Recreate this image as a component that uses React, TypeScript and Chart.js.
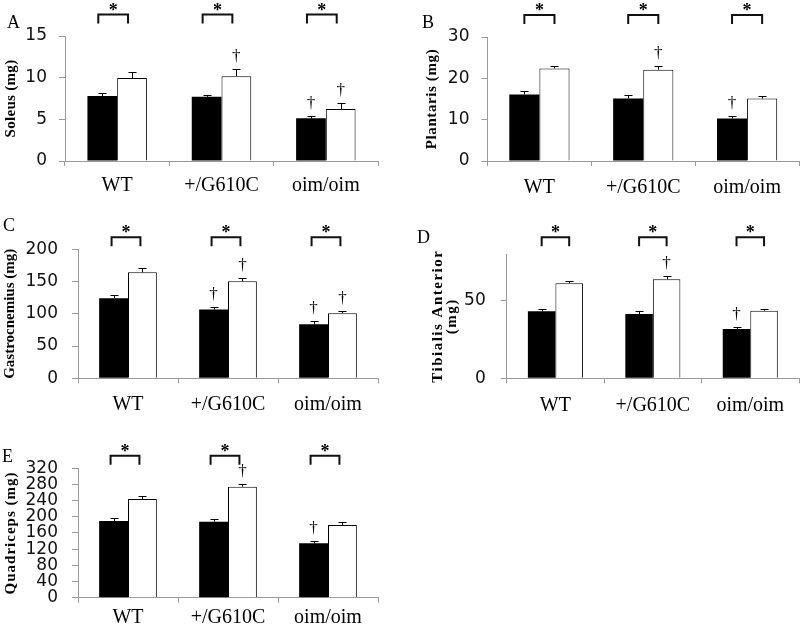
import { useEffect, useRef } from 'react';
import { Chart, registerables } from 'chart.js';
Chart.register(...registerables);

const groups = ['WT', '+/G610C', 'oim/oim'];

// A: Soleus
const soleusBlack = [7.8, 7.7, 5.12];
const soleusBlackSem = [0.32, 0.2, 0.24];
const soleusWhite = [9.96, 10.16, 6.24];
const soleusWhiteSem = [0.68, 0.84, 0.68];
const soleusTicks = [0, 5, 10, 15];
const soleusDagBlack = [false, false, true];
const soleusDagWhite = [false, true, true];

// B: Plantaris
const plantarisBlack = [16.1, 15.1, 10.3];
const plantarisBlackSem = [0.9, 0.9, 0.7];
const plantarisWhite = [22.4, 22.1, 15.1];
const plantarisWhiteSem = [0.7, 0.8, 0.55];
const plantarisTicks = [0, 10, 20, 30];
const plantarisDagBlack = [false, false, true];
const plantarisDagWhite = [false, true, false];

// C: Gastrocnemius
const gastroBlack = [124, 106.5, 83.7];
const gastroBlackSem = [4.7, 4.5, 4.7];
const gastroWhite = [164.3, 150.4, 100.8];
const gastroWhiteSem = [6.2, 5.6, 4.1];
const gastroTicks = [0, 50, 100, 150, 200];
const gastroDagBlack = [false, true, true];
const gastroDagWhite = [false, true, true];

// D: Tibialis Anterior
const tibialisBlack = [43.1, 41.4, 31.7];
const tibialisBlackSem = [1.7, 1.7, 1.3];
const tibialisWhite = [61.2, 63.8, 43.5];
const tibialisWhiteSem = [1.3, 1.9, 1.3];
const tibialisTicks = [0, 50];
const tibialisDagBlack = [false, false, true];
const tibialisDagWhite = [false, true, false];

// E: Quadriceps
const quadBlack = [189.7, 188, 134.4];
const quadBlackSem = [6.3, 7.5, 5.6];
const quadWhite = [244, 274.6, 179.8];
const quadWhiteSem = [7.5, 7.4, 7.4];
const quadTicks = [0, 40, 80, 120, 160, 200, 240, 280, 320];
const quadDagBlack = [false, false, true];
const quadDagWhite = [false, true, false];

const AXIS_GRAY = '#9a9a9a';

type Panel = {
  letter: string;
  title: string[];
  left: number; top: number; w: number; h: number;
  area: { l: number; r: number; t: number; b: number };
  yMax: number;
  ticks: number[];
  black: number[]; blackSem: number[];
  white: number[]; whiteSem: number[];
  dagB: boolean[]; dagW: boolean[];
  yPad: number; xPad: number;
  titleX: number[]; titleSize: number; titleSpacing: number;
  letterX: number; letterY: number;
  bracketY: number; bracketShift: number;
  catPct: number;
};

const panels: Panel[] = [
  {
    letter: 'A', title: ['Soleus (mg)'],
    left: 0, top: 0, w: 400, h: 205, area: { l: 65, r: 378, t: 36, b: 161 },
    yMax: 15, ticks: soleusTicks,
    black: soleusBlack, blackSem: soleusBlackSem, white: soleusWhite, whiteSem: soleusWhiteSem,
    dagB: soleusDagBlack, dagW: soleusDagWhite,
    yPad: 12, xPad: 8, titleX: [11], titleSize: 15, titleSpacing: 0.3,
    letterX: 7, letterY: 28, bracketY: 14.5, bracketShift: -4, catPct: 0.57,
  },
  {
    letter: 'B', title: ['Plantaris (mg)'],
    left: 400, top: 0, w: 400, h: 205, area: { l: 87.5, r: 399, t: 37, b: 161 },
    yMax: 30, ticks: plantarisTicks,
    black: plantarisBlack, blackSem: plantarisBlackSem, white: plantarisWhite, whiteSem: plantarisWhiteSem,
    dagB: plantarisDagBlack, dagW: plantarisDagWhite,
    yPad: 12, xPad: 10, titleX: [32.6], titleSize: 15, titleSpacing: 0.6,
    letterX: 22, letterY: 28, bracketY: 15, bracketShift: 0, catPct: 0.58,
  },
  {
    letter: 'C', title: ['Gastrocnemius (mg)'],
    left: 0, top: 205, w: 400, h: 210, area: { l: 78, r: 378, t: 44.3, b: 173.3 },
    yMax: 200, ticks: gastroTicks,
    black: gastroBlack, blackSem: gastroBlackSem, white: gastroWhite, whiteSem: gastroWhiteSem,
    dagB: gastroDagBlack, dagW: gastroDagWhite,
    yPad: 14, xPad: 9.5, titleX: [10], titleSize: 15, titleSpacing: 0,
    letterX: 3, letterY: 26, bracketY: 32.3, bracketShift: -2, catPct: 0.577,
  },
  {
    letter: 'D', title: ['Tibialis Anterior', '(mg)'],
    left: 400, top: 205, w: 400, h: 210, area: { l: 106.7, r: 399, t: 49, b: 173.3 },
    yMax: 80, ticks: tibialisTicks,
    black: tibialisBlack, blackSem: tibialisBlackSem, white: tibialisWhite, whiteSem: tibialisWhiteSem,
    dagB: tibialisDagBlack, dagW: tibialisDagWhite,
    yPad: 15, xPad: 10.5, titleX: [38.6, 52], titleSize: 15, titleSpacing: 1.5,
    letterX: 17, letterY: 38, bracketY: 32.3, bracketShift: 0, catPct: 0.565,
  },
  {
    letter: 'E', title: ['Quadriceps (mg)'],
    left: 0, top: 415, w: 400, h: 215, area: { l: 78, r: 378, t: 53.3, b: 182.7 },
    yMax: 320, ticks: quadTicks,
    black: quadBlack, blackSem: quadBlackSem, white: quadWhite, whiteSem: quadWhiteSem,
    dagB: quadDagBlack, dagW: quadDagWhite,
    yPad: 14, xPad: 3.5, titleX: [11.5], titleSize: 15, titleSpacing: 1,
    letterX: 2, letterY: 47, bracketY: 40.7, bracketShift: -3, catPct: 0.577,
  },
];

function makeAnnot(p: Panel) {
  return {
    id: 'annot' + p.letter,
    afterDraw(chart: any) {
      const ctx: CanvasRenderingContext2D = chart.ctx;
      const ys = chart.scales.y;
      const mb = chart.getDatasetMeta(0);
      const mw = chart.getDatasetMeta(1);
      ctx.save();
      const sets: [any, number[], number[], boolean[]][] = [
        [mb, p.black, p.blackSem, p.dagB],
        [mw, p.white, p.whiteSem, p.dagW],
      ];
      sets.forEach(([meta, vals, sems, dags]) => {
        meta.data.forEach((bar: any, i: number) => {
          const top = ys.getPixelForValue(vals[i] + sems[i]);
          const x = Math.round(bar.x) + 0.5;
          const ty = Math.round(top) + 0.5;
          ctx.strokeStyle = '#000';
          ctx.lineWidth = 1;
          ctx.beginPath();
          ctx.moveTo(x, bar.y);
          ctx.lineTo(x, ty);
          ctx.moveTo(x - 4, ty);
          ctx.lineTo(x + 4, ty);
          ctx.stroke();
          if (dags[i]) {
            ctx.fillStyle = '#000';
            ctx.font = '17px "Liberation Serif"';
            ctx.textAlign = 'center';
            ctx.textBaseline = 'alphabetic';
            ctx.fillText('†', bar.x, top - 13 + 5);
          }
        });
      });
      for (let i = 0; i < 3; i++) {
        const x1 = mb.data[i].x + p.bracketShift;
        const x2 = mw.data[i].x + p.bracketShift;
        const by = p.bracketY;
        ctx.strokeStyle = '#111';
        ctx.lineWidth = 2;
        ctx.beginPath();
        ctx.moveTo(x1, by + 9);
        ctx.lineTo(x1, by);
        ctx.lineTo(x2, by);
        ctx.lineTo(x2, by + 9);
        ctx.stroke();
        ctx.fillStyle = '#000';
        ctx.font = 'bold 18px "Liberation Serif"';
        ctx.textAlign = 'center';
        ctx.textBaseline = 'alphabetic';
        ctx.fillText('*', (x1 + x2) / 2, by + 1);
      }
      ctx.fillStyle = '#000';
      ctx.font = '18px "Liberation Serif"';
      ctx.textAlign = 'left';
      ctx.textBaseline = 'alphabetic';
      ctx.fillText(p.letter, p.letterX, p.letterY);
      const cy = (chart.chartArea.top + chart.chartArea.bottom) / 2;
      ctx.font = `bold ${p.titleSize}px "Liberation Serif"`;
      (ctx as any).letterSpacing = `${p.titleSpacing}px`;
      ctx.textAlign = 'center';
      ctx.textBaseline = 'middle';
      p.title.forEach((line, k) => {
        ctx.save();
        ctx.translate(p.titleX[k], cy);
        ctx.rotate(-Math.PI / 2);
        ctx.fillText(line, 0, 0);
        ctx.restore();
      });
      (ctx as any).letterSpacing = '0px';
      ctx.restore();
    },
  };
}

function PanelChart({ p }: { p: Panel }) {
  const ref = useRef<HTMLCanvasElement>(null);
  useEffect(() => {
    const canvas = ref.current!;
    const chart = new Chart(canvas, {
      type: 'bar',
      data: {
        labels: groups,
        datasets: [
          {
            data: p.black,
            backgroundColor: '#000',
            borderWidth: 0,
            categoryPercentage: p.catPct,
            barPercentage: 1,
          },
          {
            data: p.white,
            backgroundColor: '#fff',
            borderColor: '#000',
            borderWidth: 1,
            categoryPercentage: p.catPct,
            barPercentage: 1,
          },
        ],
      },
      options: {
        responsive: false,
        animation: false,
        devicePixelRatio: 1,
        layout: { padding: { top: p.area.t, right: p.w - p.area.r, left: 0, bottom: 0 } },
        plugins: { legend: { display: false }, tooltip: { enabled: false }, title: { display: false } },
        scales: {
          x: {
            grid: { display: true, offset: true, drawOnChartArea: false, drawTicks: true, tickLength: 5, color: AXIS_GRAY },
            border: { display: true, color: AXIS_GRAY },
            ticks: { color: '#000', padding: p.xPad, font: { family: 'Liberation Serif', size: 20 }, maxRotation: 0, autoSkip: false },
            afterFit: (s: any) => { s.height = p.h - p.area.b; },
          },
          y: {
            min: 0,
            max: p.yMax,
            grid: { display: true, drawOnChartArea: false, drawTicks: true, tickLength: 6, color: AXIS_GRAY },
            border: { display: true, color: AXIS_GRAY },
            ticks: { color: '#111', padding: p.yPad, autoSkip: false, font: { family: 'DejaVu Sans', size: 17 } },
            afterBuildTicks: (s: any) => { s.ticks = p.ticks.map((v) => ({ value: v })); },
            afterFit: (s: any) => { s.width = p.area.l; },
          },
        },
      },
      plugins: [makeAnnot(p)],
    } as any);
    return () => chart.destroy();
  }, [p]);
  return (
    <canvas
      ref={ref}
      width={p.w}
      height={p.h}
      style={{ position: 'absolute', left: p.left, top: p.top, width: p.w, height: p.h }}
    />
  );
}

export default function App() {
  return (
    <div style={{ position: 'fixed', left: 0, top: 0, width: 800, height: 630, background: '#fff', overflow: 'hidden' }}>
      {panels.map((p) => (
        <PanelChart key={p.letter} p={p} />
      ))}
    </div>
  );
}
